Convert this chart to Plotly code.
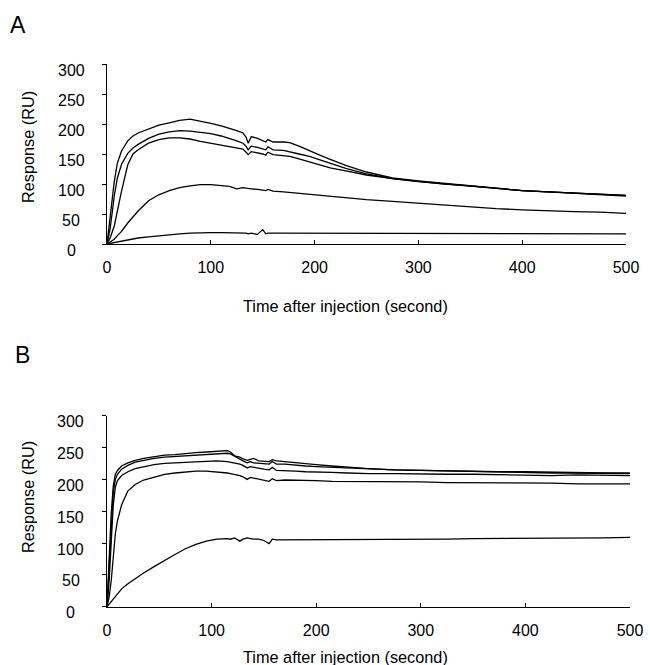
import plotly.graph_objects as go

# ---------------- Panel A data ----------------
time_a = [0, 3, 7, 10, 14, 20, 25, 30, 40, 50, 60, 70, 80, 90, 100, 110, 118, 125, 131, 134, 136, 139,
          145, 150, 153, 155, 160, 170, 176, 185, 195, 205, 215, 230, 250, 275, 300, 325, 350, 375,
          400, 425, 450, 475, 500]
a1 = [0, 45, 104, 135, 155, 172, 180, 185, 192, 198, 202, 206, 208, 205, 201, 197, 193, 189, 185, 178, 168, 179,
      176, 173, 170, 174, 170, 170, 169, 163, 155, 148, 141, 131, 120, 110, 105, 101, 97, 93,
      89, 87, 85, 83, 81]
a2 = [0, 25, 80, 110, 133, 151, 160, 166, 176, 183, 187, 189, 188, 186, 184, 180, 176, 172, 168, 163, 157, 163,
      161, 159, 157, 162, 157, 156, 154, 150, 146, 140, 134, 126, 117, 109, 104, 100, 97, 93,
      89, 87, 85, 83, 81]
a3 = [0, 10, 30, 55, 88, 132, 150, 157, 168, 174, 177, 177, 175, 171, 168, 165, 162, 160, 158, 153, 149, 154,
      152, 150, 148, 153, 149, 147, 146, 142, 137, 132, 127, 122, 115, 109, 104, 100, 97, 93,
      89, 87, 85, 83, 80]
a4 = [0, 3, 8, 14, 21, 35, 46, 55, 72, 82, 89, 94, 97, 99, 99, 97, 96, 92, 94, 93, 93, 92,
      91, 90, 89, 91, 88, 87, 86, 85, 83, 81, 79, 77, 74, 71, 68, 65, 61, 59,
      57, 55, 54, 53, 51]
a5 = [0, 1, 2, 3, 5, 7, 8, 10, 12, 14, 16, 17, 18, 19, 19, 19, 19, 18, 19, 18, 17, 18,
      16, 24, 17, 18, 18, 18, 18, 18, 18, 18, 18, 18, 18, 18, 18, 18, 18, 18,
      18, 17, 18, 17, 17]

# ---------------- Panel B data ----------------
time_b = [0, 2, 4, 6, 8, 10, 14, 20, 27, 35, 45, 55, 65, 75, 85, 95, 105, 115, 118, 122, 127, 130,
          134, 137, 140, 145, 150, 155, 158, 162, 170, 180, 190, 200, 215, 230, 250, 275, 300, 325,
          350, 375, 400, 425, 450, 475, 500]
b1 = [0, 70, 145, 190, 208, 214, 221, 226, 230, 233, 236, 238, 239, 241, 242, 243, 244, 245, 243, 237, 235, 232,
      230, 231, 233, 229, 229, 228, 231, 229, 228, 226, 225, 223, 221, 219, 217, 215, 214, 213,
      213, 212, 212, 211, 211, 210, 210]
b2 = [0, 55, 125, 180, 200, 208, 216, 222, 227, 230, 233, 235, 236, 237, 238, 239, 240, 241, 240, 236, 232, 229,
      226, 228, 226, 225, 225, 224, 228, 224, 224, 222, 221, 220, 219, 218, 216, 215, 214, 213,
      212, 211, 211, 210, 210, 209, 209]
b3 = [0, 40, 100, 160, 188, 198, 206, 212, 217, 220, 223, 225, 226, 227, 228, 228, 229, 228, 227, 226, 224, 222,
      218, 220, 219, 217, 216, 215, 219, 214, 214, 213, 212, 212, 211, 210, 209, 209, 208, 208,
      208, 207, 207, 206, 207, 206, 206]
b4 = [0, 15, 40, 80, 115, 135, 160, 182, 192, 199, 204, 208, 210, 212, 213, 213, 212, 210, 209, 208, 206, 204,
      200, 203, 202, 201, 199, 197, 201, 198, 199, 199, 198, 198, 197, 197, 196, 196, 196, 195,
      195, 194, 194, 194, 193, 193, 193]
b5 = [0, 4, 8, 12, 16, 20, 28, 36, 44, 53, 63, 73, 82, 91, 98, 103, 106, 107, 106, 108, 103, 106,
      108, 107, 106, 106, 104, 99, 106, 105, 105, 105, 105, 105, 105, 105, 106, 106, 106, 106,
      107, 107, 107, 108, 108, 108, 109]

x_ticks = [0, 100, 200, 300, 400, 500]
y_ticks = [0, 50, 100, 150, 200, 250, 300]
x_title = "Time after injection (second)"
y_title = "Response (RU)"
panel_labels = ["A", "B"]

W, H = 650, 665
FONT = "Liberation Sans, Arial, sans-serif"
TICK_SIZE = 16
TITLE_SIZE = 16.3

fig = go.Figure()
for ys in (a1, a2, a3, a4, a5):
    fig.add_trace(go.Scatter(x=time_a, y=ys, mode="lines", xaxis="x", yaxis="y",
                             line=dict(color="black", width=1.3), showlegend=False, hoverinfo="skip"))
for ys in (b1, b2, b3, b4, b5):
    fig.add_trace(go.Scatter(x=time_b, y=ys, mode="lines", xaxis="x2", yaxis="y2",
                             line=dict(color="black", width=1.3), showlegend=False, hoverinfo="skip"))

def px_x(p):
    return p / W

def px_y(p):
    return 1 - p / H

common_x = dict(range=[0, 500], tickvals=x_ticks, showline=True, linecolor="black", linewidth=1,
                ticks="inside", ticklen=4, tickcolor="black", showgrid=False, zeroline=False,
                automargin=False,
                tickfont=dict(size=TICK_SIZE, color="black", family=FONT), ticklabelstandoff=9)
common_y = dict(range=[0, 300], tickvals=y_ticks, showline=True, linecolor="black", linewidth=1,
                ticks="outside", ticklen=4, tickcolor="black", showgrid=False, zeroline=False,
                automargin=False, showticklabels=False)

fig.update_layout(
    width=W, height=H, margin=dict(l=0, r=0, t=0, b=0, pad=0, autoexpand=False),
    paper_bgcolor="white", plot_bgcolor="white",
    font=dict(family=FONT, color="black"),
    xaxis=dict(domain=[px_x(107), px_x(626)], anchor="y", **common_x),
    yaxis=dict(domain=[px_y(244), px_y(64)], anchor="x", **common_y),
    xaxis2=dict(domain=[px_x(107), px_x(630)], anchor="y2", **common_x),
    yaxis2=dict(domain=[px_y(606.7), px_y(415.7)], anchor="x2", **common_y),
)

# centred y tick labels (positioned on the y axes' own scale)
for yref, xc, shift in (("y", 71, -7), ("y2", 70.5, -6)):
    for v in y_ticks:
        fig.add_annotation(text=str(v), xref="paper", yref=yref, x=px_x(xc), y=v, yshift=shift,
                           showarrow=False, xanchor="center", yanchor="middle",
                           font=dict(size=TICK_SIZE, color="black", family=FONT))

ann = [
    dict(text=x_title, x=px_x(345), y=px_y(306)),
    dict(text=x_title, x=px_x(346), y=px_y(657)),
    dict(text=y_title, x=px_x(28), y=px_y(147), textangle=-90),
    dict(text=y_title, x=px_x(28), y=px_y(497), textangle=-90),
]
for a in ann:
    fig.add_annotation(xref="paper", yref="paper", showarrow=False, xanchor="center", yanchor="middle",
                       font=dict(size=TITLE_SIZE, color="black", family=FONT), **a)
fig.add_annotation(text=panel_labels[0], xref="paper", yref="paper", x=px_x(17.5), y=px_y(25),
                   showarrow=False, xanchor="center", yanchor="middle",
                   font=dict(size=23, color="black", family=FONT))
fig.add_annotation(text=panel_labels[1], xref="paper", yref="paper", x=px_x(22.5), y=px_y(355),
                   showarrow=False, xanchor="center", yanchor="middle",
                   font=dict(size=23, color="black", family=FONT))

fig.write_html("out.html", config={"displayModeBar": False},
               post_script="document.body.style.margin='0';document.body.style.overflow='hidden';")
